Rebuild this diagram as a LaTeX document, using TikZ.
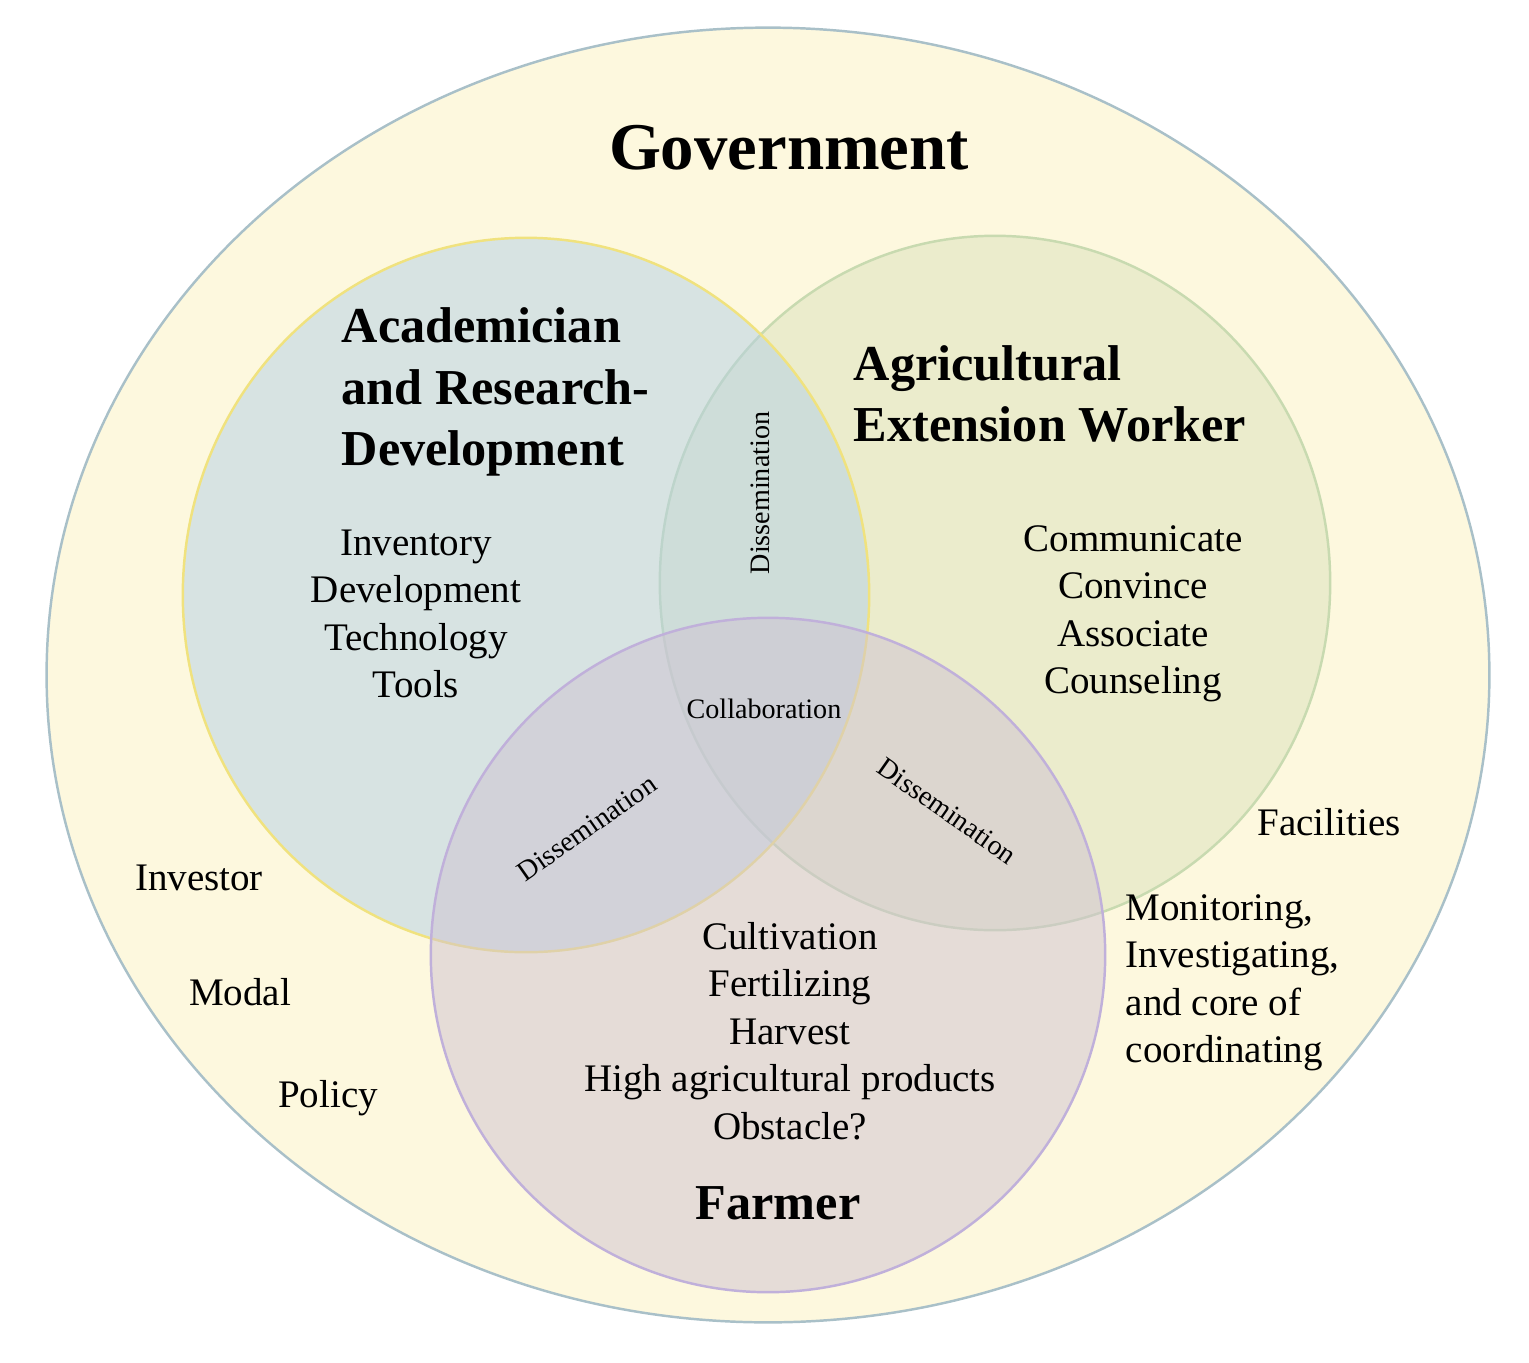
\documentclass[tikz,border=0pt]{standalone}
\usepackage{fontspec}
\setmainfont{Liberation Serif}
\usetikzlibrary{positioning}

\definecolor{govfill}{HTML}{FDF8DE}
\definecolor{govline}{HTML}{A9C0C8}
\definecolor{acadfill}{HTML}{B3D0E6}
\definecolor{acadline}{HTML}{F0E27E}
\definecolor{extfill}{HTML}{DBE2BC}
\definecolor{extline}{HTML}{C8DAB0}
\definecolor{farmfill}{HTML}{CFC2D2}
\definecolor{farmline}{HTML}{C0B0DA}

\begin{document}
\begin{tikzpicture}[x=0.01cm,y=-0.01cm,
    ring/.style={line width=0.7pt,fill opacity=0.5},
    title/.style={font=\bfseries\fontsize{19}{22}\selectfont},
    group/.style={font=\bfseries\fontsize{14.3}{17.4}\selectfont,align=left,inner sep=0pt},
    items/.style={font=\fontsize{11.1}{13.5}\selectfont,align=center,inner sep=0pt},
    link/.style={font=\fontsize{8}{10}\selectfont,inner sep=0pt}]
      \useasboundingbox (0,0) rectangle (1529,1363);

      \coordinate (g) at (768,675);
      \coordinate (e) at (995,583);
      \coordinate (a) at (526,595);
      \coordinate (f) at (768,955);

      % circles
      \filldraw[fill=govfill,draw=govline,line width=0.7pt] (g) ellipse [x radius=7.21cm,y radius=6.47cm];
      \filldraw[ring,fill=extfill,draw=extline] (e) ellipse [x radius=3.35cm,y radius=3.47cm];
      \filldraw[ring,fill=acadfill,draw=acadline] (a) ellipse [x radius=3.43cm,y radius=3.57cm];
      \filldraw[ring,fill=farmfill,draw=farmline] (f) ellipse [x radius=3.37cm,y radius=3.37cm];

      % group names
      \node[title] (govT) at (789,148) {Government};
      \node[group,anchor=west] (acadT) at (341,392) {Academician\\and Research-\\Development};
      \node[group,anchor=west] (extT) at (853,394) {Agricultural\\Extension Worker};
      \node[group] (farmT) at (778,1203) {Farmer};

      \node[items] (acadL) at (416,614) {Inventory\\Development\\Technology\\Tools};
      \node[items] (extL) at (1133,614) {Communicate\\Convince\\Associate\\Counseling};
      \node[items] (farmL) at (790,1031) {Cultivation\\Fertilizing\\Harvest\\High agricultural products\\Obstacle?};

      % overlaps
      \node[link,rotate=90] (aeD) at (760,493) {Dissemination};
      \node[link,rotate=35] (afD) at (587,828) {Dissemination};
      \node[link,rotate=-35] (efD) at (947,811) {Dissemination};
      \node[link] (allC) at (764,709) {Collaboration};

      % government side
      \node[items] (facT) at (1329,822) {Facilities};
      \node[items,align=left,anchor=west] (monT) at (1125,983) {Monitoring,\\Investigating,\\and core of\\coordinating};
      \node[items] (invT) at (199,878) {Investor};
      \node[items] (modT) at (240,992) {Modal};
      \node[items] (polT) at (328,1098) {Policy};

    \end{tikzpicture}
\end{document}
